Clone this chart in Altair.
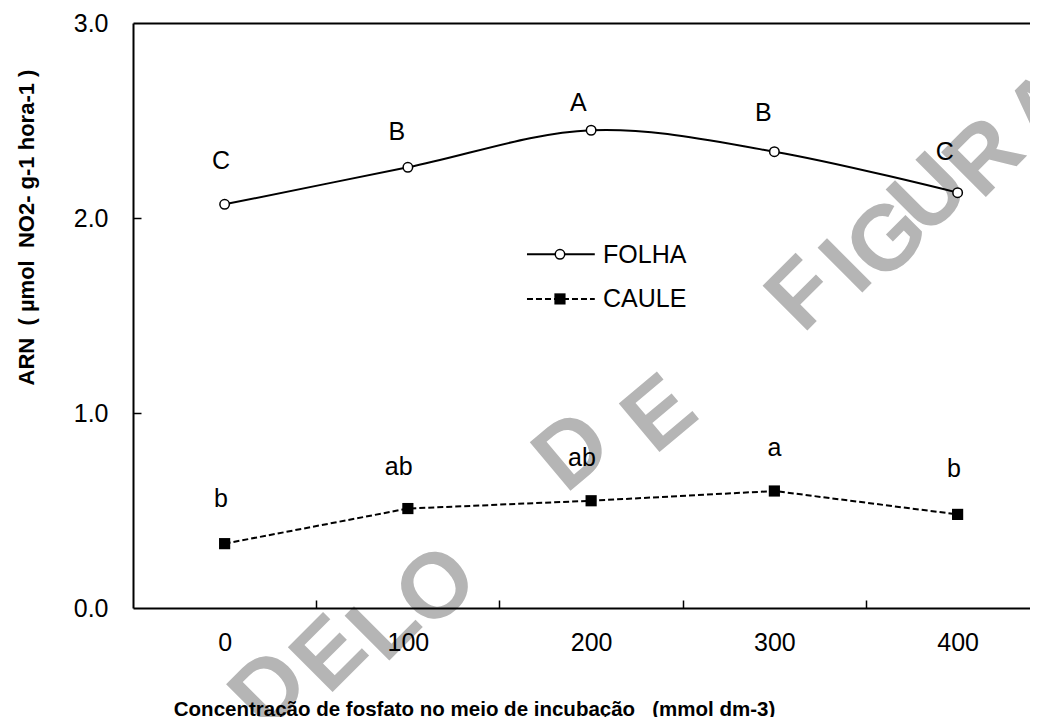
import altair as alt
import pandas as pd

# ---------------- data ----------------
conc = [0, 100, 200, 300, 400]
folha = [2.07, 2.26, 2.45, 2.34, 2.13]
caule = [0.33, 0.51, 0.55, 0.60, 0.48]

folha_letters = ["C", "B", "A", "B", "C"]
folha_lab_x = [-2, 94, 193, 294, 393]
folha_lab_y = [2.25, 2.40, 2.55, 2.50, 2.30]

caule_letters = ["b", "ab", "ab", "a", "b"]
caule_lab_x = [-2, 95, 195, 300, 398]
caule_lab_y = [0.52, 0.68, 0.73, 0.78, 0.67]

x_tick_values = [0, 100, 200, 300, 400]
x_minor_ticks = [50, 150, 250, 350]
y_tick_values = [0.0, 1.0, 2.0, 3.0]
y_minor_ticks = [1.0, 2.0]

legend_names = ["FOLHA", "CAULE"]
legend_line_y = [1.814, 1.585]
legend_text_y = [1.768, 1.545]
legend_x_start = [165, 165]
legend_x_mid = [183, 183]
legend_x_end = [202, 202]
legend_text_x = [206.5, 206.5]

# watermark "MODELO DE FIGURA" letters (data units)
wm_letters = ["D", "E", "L", "O", "D", "E", "F", "I", "G", "U", "R", "A"]
wm_x = [24.8, 57.6, 87.6, 116, 190.2, 237.7, 315.7, 339.7, 362, 385, 415, 447.8]
wm_y = [-0.42, -0.24, -0.087, 0.103, 0.80, 0.99, 1.605, 1.744, 1.887, 2.118, 2.308, 2.554]
wm_angle = [315, 315, 315, 318, 320, 320, 315, 315, 315, 315, 315, 315]

FONT = "Liberation Sans"

df = pd.DataFrame({"conc": conc, "folha": folha, "caule": caule})
df_fl = pd.DataFrame({"x": folha_lab_x, "y": folha_lab_y, "t": folha_letters})
df_cl = pd.DataFrame({"x": caule_lab_x, "y": caule_lab_y, "t": caule_letters})
df_leg = pd.DataFrame({"name": legend_names, "ly": legend_line_y, "ty": legend_text_y,
                       "x0": legend_x_start, "xm": legend_x_mid, "x1": legend_x_end,
                       "tx": legend_text_x})
df_wm = pd.DataFrame({"t": wm_letters, "x": wm_x, "y": wm_y, "a": wm_angle})

xs = alt.Scale(domain=[-50, 439.5], nice=False, zero=False)
ys = alt.Scale(domain=[0, 3], nice=False, zero=False)

def X(field, axis=None):
    return alt.X(field, scale=xs, axis=axis)

def Y(field, axis=None):
    return alt.Y(field, scale=ys, axis=axis)

# inward minor ticks (axes displaced into the plot)
x_tick_axis = alt.Axis(orient="bottom", values=x_minor_ticks, labels=False, domain=False,
                       ticks=True, tickSize=8, offset=-8, tickColor="black", tickWidth=1.5,
                       grid=False, title=None, zindex=1)
y_tick_axis = alt.Axis(orient="left", values=y_minor_ticks, labels=False, domain=False,
                       ticks=True, tickSize=8, offset=-8, tickColor="black", tickWidth=1.5,
                       grid=False, title=None, zindex=1)

x_main_axis = alt.Axis(orient="bottom", values=x_tick_values, ticks=False, tickSize=0,
                       domain=True, domainColor="black", domainWidth=2,
                       labelFont=FONT, labelFontSize=25, labelColor="black", labelPadding=22,
                       grid=False, zindex=1,
                       title="Concentração de fosfato no meio de incubação\u00a0\u00a0\u00a0(mmol dm-3)",
                       titleFont=FONT, titleFontSize=20.5, titleFontWeight="bold", titleColor="black",
                       titleX=341, titleY=107, titleAlign="center", titleBaseline="alphabetic")
y_main_axis = alt.Axis(orient="left", values=y_tick_values, format=".1f", ticks=False, tickSize=0,
                       domain=True, domainColor="black", domainWidth=2,
                       labelFont=FONT, labelFontSize=25, labelColor="black", labelPadding=25,
                       grid=False, zindex=1,
                       title="ARN\u00a0\u00a0(\u00a0µmol\u00a0\u00a0NO2-\u00a0g-1\u00a0hora-1\u00a0)",
                       titleFont=FONT, titleFontSize=22, titleFontWeight="bold", titleColor="black",
                       titleX=-107, titleY=204, titleAngle=270, titleAlign="center",
                       titleBaseline="middle")
top_axis = alt.Axis(orient="top", labels=False, ticks=False, domain=True, domainColor="black",
                    domainWidth=2, grid=False, title=None, zindex=1)

watermark = alt.Chart(df_wm).mark_text(
    font=FONT, fontWeight="bold", fontSize=92, color="#b5b5b5",
    align="center", baseline="middle"
).encode(
    x=X("x:Q", x_tick_axis), y=Y("y:Q", y_tick_axis), text="t:N",
    angle=alt.Angle("a:Q", scale=None)
)

folha_line = alt.Chart(df).mark_line(
    color="black", strokeWidth=2, interpolate="cardinal", tension=0
).encode(x=X("conc:Q", x_main_axis), y=Y("folha:Q", y_main_axis))

folha_pts = alt.Chart(df).mark_point(
    shape="circle", filled=True, fill="white", stroke="black", strokeWidth=1.5,
    size=90, opacity=1
).encode(x=X("conc:Q", top_axis), y=Y("folha:Q"))

caule_line = alt.Chart(df).mark_line(
    color="black", strokeWidth=2, strokeDash=[6, 3]
).encode(x=X("conc:Q"), y=Y("caule:Q"))

caule_pts = alt.Chart(df).mark_point(
    shape="square", filled=True, fill="black", stroke="black", strokeWidth=0,
    size=125, opacity=1
).encode(x=X("conc:Q"), y=Y("caule:Q"))

folha_labels = alt.Chart(df_fl).mark_text(
    font=FONT, fontSize=25, color="black", align="center", baseline="alphabetic"
).encode(x=X("x:Q"), y=Y("y:Q"), text="t:N")

caule_labels = alt.Chart(df_cl).mark_text(
    font=FONT, fontSize=25, color="black", align="center", baseline="alphabetic"
).encode(x=X("x:Q"), y=Y("y:Q"), text="t:N")

leg_folha = df_leg[df_leg["name"] == "FOLHA"]
leg_caule = df_leg[df_leg["name"] == "CAULE"]

leg_line_f = alt.Chart(leg_folha).mark_rule(color="black", strokeWidth=2).encode(
    x=X("x0:Q"), x2="x1:Q", y=Y("ly:Q"))
leg_line_c = alt.Chart(leg_caule).mark_rule(color="black", strokeWidth=2, strokeDash=[6, 3]).encode(
    x=X("x0:Q"), x2="x1:Q", y=Y("ly:Q"))
leg_pt_f = alt.Chart(leg_folha).mark_point(
    shape="circle", filled=True, fill="white", stroke="black", strokeWidth=1.5, size=90, opacity=1
).encode(x=X("xm:Q"), y=Y("ly:Q"))
leg_pt_c = alt.Chart(leg_caule).mark_point(
    shape="square", filled=True, fill="black", strokeWidth=0, size=125, opacity=1
).encode(x=X("xm:Q"), y=Y("ly:Q"))
leg_text = alt.Chart(df_leg).mark_text(
    font=FONT, fontSize=25, color="black", align="left", baseline="alphabetic"
).encode(x=X("tx:Q"), y=Y("ty:Q"), text="name:N")

chart = alt.layer(
    watermark, folha_line, caule_line, folha_pts, caule_pts,
    folha_labels, caule_labels,
    leg_line_f, leg_line_c, leg_pt_f, leg_pt_c, leg_text
).resolve_scale(
    x="independent", y="independent"
).properties(
    width=897, height=585,
    autosize=alt.AutoSizeParams(type="none"),
    padding={"left": 125, "top": 15, "right": 0, "bottom": 109},
    background="white"
).configure_view(stroke=None)

chart.save("out.html", embed_options={"renderer": "svg", "actions": False})
